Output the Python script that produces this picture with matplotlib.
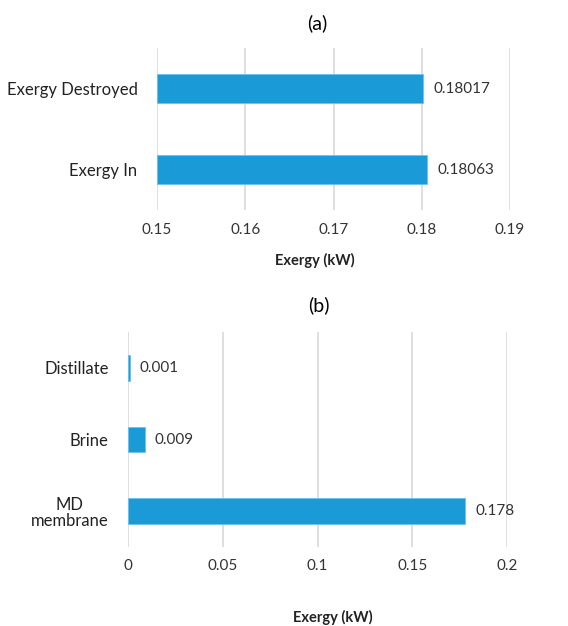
import numpy as np
import matplotlib.pyplot as plt

# exergy balance, panel (a)
flows_a = ['Exergy In', 'Exergy Destroyed']
values_a = [0.18063, 0.18017]
labels_a = ['0.18063', '0.18017']
ticks_a = [0.15, 0.16, 0.17, 0.18, 0.19]

# exergy destruction by component, panel (b)
flows_b = ['MD\nmembrane', 'Brine', 'Distillate']
values_b = [0.178, 0.009, 0.001]
labels_b = ['0.178', '0.009', '0.001']
ticks_b = [0, 0.05, 0.1, 0.15, 0.2]
tick_text_b = ['0', '0.05', '0.1', '0.15', '0.2']

bar_color = '#1a9ad6'
grid_color = '#d9d9d9'
plt.rcParams['font.family'] = ['Lato', 'DejaVu Sans']

fig = plt.figure(figsize=(5.68, 6.26), dpi=100)
ax1 = fig.add_axes([0.2764, 0.6645, 0.6216, 0.2588])
ax2 = fig.add_axes([0.2254, 0.1262, 0.6672, 0.3434])


def style(ax, ticks, tick_text, xmin, xmax, nrows):
    ax.set_xlim(xmin, xmax)
    ax.set_ylim(-0.5, nrows - 0.5)
    ax.set_xticks(ticks)
    ax.set_xticklabels(tick_text, fontsize=11, color='#333333')
    for s in ax.spines.values():
        s.set_visible(False)
    ax.tick_params(axis='both', length=0)
    ax.tick_params(axis='y', pad=14, labelsize=12, labelcolor='#222222')
    ax.tick_params(axis='x', pad=9)
    ax.xaxis.grid(True, color=grid_color, linewidth=1.2)
    ax.set_axisbelow(True)


y_a = np.arange(len(flows_a))
ax1.barh(y_a, np.array(values_a) - 0.15, left=0.15, height=0.35,
         color=bar_color, edgecolor='#6cc3ee', linewidth=0.6)
ax1.set_yticks(y_a)
ax1.set_yticklabels(flows_a)
style(ax1, ticks_a, ['%.2f' % t for t in ticks_a], 0.15, 0.19, len(flows_a))
for y, v, t in zip(y_a, values_a, labels_a):
    ax1.annotate(t, (v, y), xytext=(7, 0), textcoords='offset points',
                 va='center', ha='left', fontsize=11, color='#333333')

y_b = np.arange(len(flows_b))
ax2.barh(y_b, values_b, height=0.36,
         color=bar_color, edgecolor='#6cc3ee', linewidth=0.6)
ax2.set_yticks(y_b)
ax2.set_yticklabels(flows_b, linespacing=1.0, multialignment='center')
style(ax2, ticks_b, tick_text_b, 0, 0.2, len(flows_b))
for y, v, t in zip(y_b, values_b, labels_b):
    ax2.annotate(t, (v, y), xytext=(7, 0), textcoords='offset points',
                 va='center', ha='left', fontsize=11, color='#333333')

fig.text(317 / 568, 1 - 23 / 626, '(a)', ha='center', va='center', fontsize=14)
fig.text(319 / 568, 1 - 305 / 626, '(b)', ha='center', va='center', fontsize=14)
fig.text(315 / 568, 1 - 260 / 626, 'Exergy (kW)', ha='center', va='center',
         fontsize=10.5, fontweight='bold', color='#222222')
fig.text(333 / 568, 1 - 617 / 626, 'Exergy (kW)', ha='center', va='center',
         fontsize=10.5, fontweight='bold', color='#222222')

fig.savefig('out.png', dpi=100, facecolor='white')
